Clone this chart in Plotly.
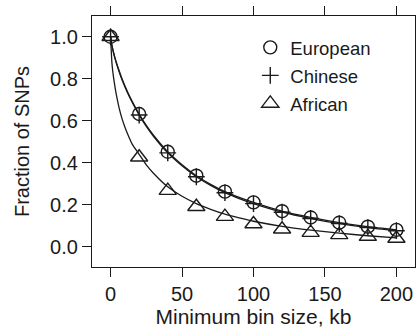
import plotly.graph_objects as go

# Marker data (fraction of SNPs by minimum bin size, kb)
bins = [0, 20, 40, 60, 80, 100, 120, 140, 160, 180, 200]
european = [1.0, 0.632, 0.452, 0.338, 0.262, 0.211, 0.169, 0.139, 0.114, 0.095, 0.080]
chinese = [1.0, 0.627, 0.447, 0.333, 0.257, 0.205, 0.164, 0.134, 0.110, 0.091, 0.076]
african = [1.0, 0.426, 0.267, 0.190, 0.143, 0.108, 0.083, 0.067, 0.056, 0.048, 0.039]

# Fitted curves
fit_x = [0, 1, 2, 3, 4, 6, 8, 10, 12, 15, 20, 25, 30, 40, 50, 60, 70, 80, 90, 100,
         120, 140, 160, 180, 200]
european_fit = [1.0, 0.958, 0.928, 0.902, 0.879, 0.838, 0.800, 0.767, 0.736, 0.694,
                0.632, 0.578, 0.531, 0.452, 0.390, 0.338, 0.297, 0.262, 0.235, 0.211,
                0.169, 0.139, 0.114, 0.095, 0.080]
chinese_fit = [1.0, 0.956, 0.925, 0.898, 0.875, 0.833, 0.795, 0.762, 0.731, 0.689,
               0.627, 0.573, 0.526, 0.447, 0.385, 0.333, 0.292, 0.257, 0.229, 0.205,
               0.164, 0.134, 0.110, 0.091, 0.076]
african_fit = [1.0, 0.870, 0.810, 0.765, 0.725, 0.660, 0.610, 0.570, 0.535, 0.490,
               0.440, 0.390, 0.350, 0.285, 0.240, 0.205, 0.178, 0.155, 0.137, 0.121,
               0.097, 0.079, 0.064, 0.052, 0.042]

x_ticks = [0, 50, 100, 150, 200]
y_ticks = [0.0, 0.2, 0.4, 0.6, 0.8, 1.0]
y_tick_text = ["0.0", "0.2", "0.4", "0.6", "0.8", "1.0"]

INK = "#1a1a1a"
FONT = "Liberation Sans, Arial, Helvetica, sans-serif"

fig = go.Figure()

for ys in (european_fit, chinese_fit, african_fit):
    fig.add_trace(go.Scatter(x=fit_x, y=ys, mode="lines",
                             line=dict(color=INK, width=1.3, shape="spline", smoothing=0.6),
                             showlegend=False, hoverinfo="skip"))

series = [
    ("European", european, "circle-open", 13, "g1"),
    ("Chinese", chinese, "cross-thin-open", 12, "g2"),
    ("African", african, "triangle-up-open", 15, "g3"),
]
for name, ys, sym, size, grp in series:
    fig.add_trace(go.Scatter(x=bins, y=ys, mode="markers", name=name, legendgroup=grp,
                             marker=dict(symbol=sym, size=size, color=INK,
                                         line=dict(color=INK, width=1.4))))

fig.update_layout(
    width=417, height=330,
    margin=dict(l=92, r=2, t=16, b=63),
    paper_bgcolor="white", plot_bgcolor="white",
    font=dict(family=FONT, size=20, color=INK),
    legend=dict(x=0.49, y=0.949, xanchor="left", yanchor="top",
                bgcolor="rgba(0,0,0,0)", tracegroupgap=1,
                font=dict(size=18.5, family=FONT, color=INK)),
)
fig.update_xaxes(
    range=[-13, 213], tickvals=x_ticks, ticks="outside", ticklen=9, tickwidth=1.3,
    tickcolor=INK, showline=True, linecolor=INK, linewidth=1.3, mirror="ticks",
    showgrid=False, zeroline=False, tickfont=dict(size=20), automargin=False,
    title=dict(text="Minimum bin size, kb", font=dict(size=21), standoff=3),
)
fig.update_yaxes(
    range=[-0.097, 1.099], tickvals=y_ticks, ticktext=y_tick_text, ticks="outside",
    ticklen=9, tickwidth=1.3, tickcolor=INK, showline=True, linecolor=INK,
    linewidth=1.3, mirror=True, showgrid=False, zeroline=False,
    tickfont=dict(size=20), automargin=False,
    title=dict(text="Fraction of SNPs", font=dict(size=20)),
)

# Remove the default page margin so the figure fills the window exactly.
fig.write_html(
    "out.html",
    config={"displayModeBar": False},
    post_script="document.body.style.margin='0';document.body.style.overflow='hidden';",
)
